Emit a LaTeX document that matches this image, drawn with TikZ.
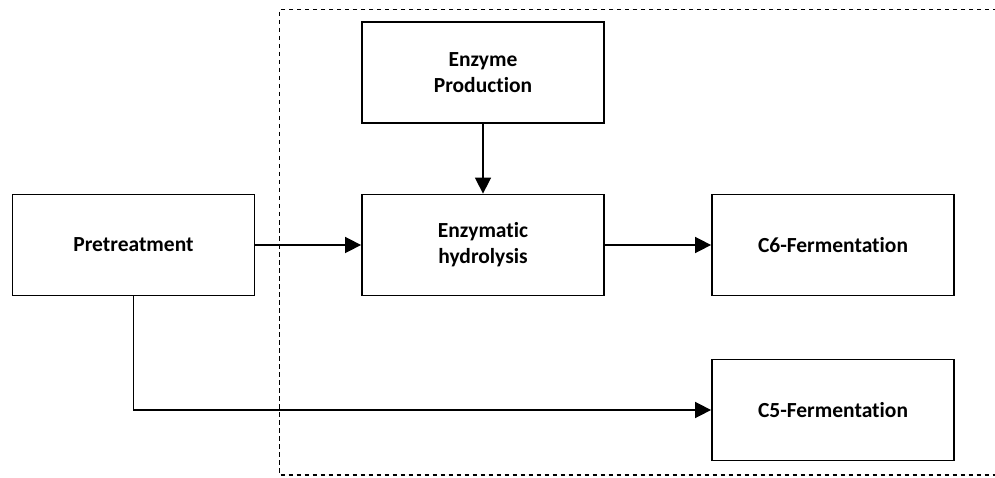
\documentclass[tikz,border=0pt]{standalone}
\usepackage{fontspec}
\setmainfont[Ligatures=NoCommon]{Carlito}
\usetikzlibrary{arrows.meta}
\begin{document}
\begin{tikzpicture}[x=1pt,y=-1pt,
  procbox/.style={draw=black, line width=1.8pt, minimum width=242pt, minimum height=101pt,
    inner sep=0pt, align=center, font=\fontsize{21.5}{26}\selectfont\bfseries},
  flow/.style={line width=1.6pt, -{Triangle[length=16pt,width=16pt]}},
  region/.style={draw=black, line width=1.6pt, dash pattern=on 4.5pt off 3.5pt}]
\clip (0,0) rectangle (995,478);
\draw[region] (1005,9.5) -- (279.5,9.5) -- (279.5,475) -- (1005,475);
\node[procbox] (pre) at (133.5,245) {Pretreatment};
\node[procbox] (enz) at (483,72.5) {Enzyme\\Production};
\node[procbox] (hyd) at (483,245) {Enzymatic\\hydrolysis};
\node[procbox] (c6) at (833,245) {C6-Fermentation};
\node[procbox] (c5) at (833,410) {C5-Fermentation};
\draw[flow] (pre.east) -- (hyd.west);
\draw[flow] (enz.south) -- (hyd.north);
\draw[flow] (hyd.east) -- (c6.west);
\draw[flow] (pre.south) |- (c5.west);
\end{tikzpicture}
\end{document}
